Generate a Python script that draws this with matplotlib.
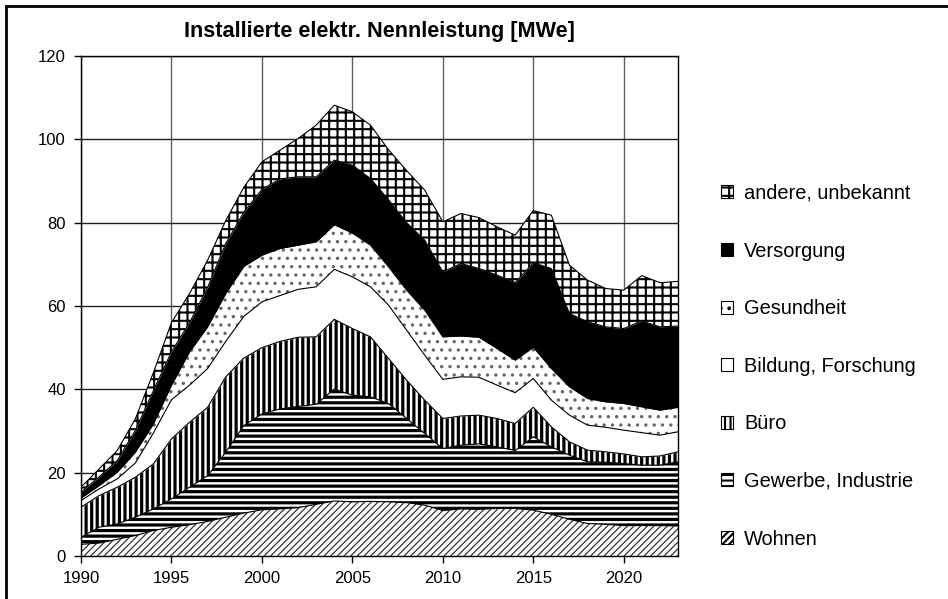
import matplotlib
matplotlib.use("Agg")
import matplotlib.pyplot as plt
from matplotlib.patches import Rectangle, Patch
import numpy as np

plt.rcParams['font.family'] = ['Liberation Sans', 'DejaVu Sans']

years = list(range(1990, 2024))

wohnen = [2.8, 3.1, 4.0, 4.9, 6.1, 6.9, 7.5, 8.3, 9.3, 10.3, 11.1, 11.3, 11.6, 12.4, 13.2, 13.0, 13.1,
          13.0, 12.8, 12.2, 10.9, 11.3, 11.2, 11.4, 11.4, 11.0, 10.0, 8.8, 7.8, 7.6, 7.3, 7.3, 7.3, 7.2]
gewerbe = [1.7, 3.8, 3.7, 4.4, 5.2, 6.8, 9.0, 11.0, 15.6, 21.0, 23.0, 24.0, 24.3, 24.0, 26.9, 25.6, 25.1,
           23.6, 20.2, 17.2, 14.9, 15.3, 15.7, 14.8, 13.9, 17.6, 16.2, 15.4, 14.8, 14.9, 14.9, 14.5, 14.5, 15.4]
buero = [7.2, 7.6, 8.8, 9.6, 10.8, 14.4, 15.6, 16.4, 18.1, 16.2, 15.9, 16.2, 16.6, 16.2, 16.7, 16.0, 14.4,
         10.8, 9.2, 8.0, 7.2, 7.0, 6.9, 6.8, 6.5, 7.1, 4.8, 3.2, 2.8, 2.5, 2.3, 2.0, 2.2, 2.4]
bildung = [1.6, 1.6, 2.0, 3.4, 7.4, 9.4, 8.9, 9.3, 8.5, 10.0, 11.0, 11.0, 11.5, 12.0, 12.0, 12.4, 12.0,
           12.8, 12.0, 10.8, 9.4, 9.4, 9.1, 8.0, 7.4, 6.9, 6.4, 6.4, 6.0, 5.9, 5.7, 5.8, 5.0, 4.8]
gesundheit = [0.6, 0.8, 1.6, 2.6, 2.2, 3.5, 8.0, 10.0, 11.5, 12.0, 11.2, 11.3, 10.6, 10.8, 10.7, 10.5, 10.0,
              9.2, 9.6, 10.8, 10.2, 9.8, 9.6, 8.8, 7.8, 7.5, 7.6, 6.8, 6.4, 6.1, 6.4, 6.2, 6.0, 5.9]
versorgung = [1.4, 2.1, 2.8, 5.2, 8.0, 8.0, 7.0, 9.5, 12.0, 13.0, 15.8, 16.7, 16.4, 15.6, 15.5, 16.3, 16.0,
              16.1, 16.2, 16.8, 15.6, 17.4, 16.5, 17.6, 18.6, 20.3, 24.0, 17.6, 18.4, 18.0, 18.0, 20.6, 20.0, 19.5]
andere = [1.2, 1.9, 2.4, 2.8, 4.3, 7.0, 7.0, 6.5, 5.5, 6.0, 6.6, 6.9, 9.2, 12.4, 13.2, 12.8, 12.8,
          12.0, 12.5, 12.0, 12.0, 12.0, 12.2, 11.6, 11.4, 12.5, 12.8, 11.6, 10.0, 9.2, 9.2, 10.9, 10.6, 10.7]

labels = ["Wohnen", "Gewerbe, Industrie", "Büro", "Bildung, Forschung",
          "Gesundheit", "Versorgung", "andere, unbekannt"]
series = [wohnen, gewerbe, buero, bildung, gesundheit, versorgung, andere]

# fill, hatch, hatch colour, hatch linewidth
styles = [
    ("white", "/////", "#333333", 0.9),
    ("white", "---", "black", 2.3),
    ("white", "|||", "black", 2.3),
    ("white", None, "black", 1.0),
    ("white", "..", "#666666", 1.2),
    ("black", None, "black", 1.0),
    ("white", "++", "black", 1.5),
]

fig = plt.figure(figsize=(9.48, 5.99), dpi=100)
ax = fig.add_axes([81 / 948, 43 / 599, 597 / 948, 500 / 599])

x = np.array(years)
bottom = np.zeros(len(years))
handles = []
for vals, lab, (fc, hatch, hc, hlw) in zip(series, labels, styles):
    top = bottom + np.array(vals)
    plt.rcParams['hatch.linewidth'] = hlw
    coll = ax.fill_between(x, bottom, top, facecolor=fc, edgecolor=hc, hatch=hatch,
                           linewidth=0, zorder=2)
    if hasattr(coll, 'set_hatch_linewidth'):
        coll.set_hatch_linewidth(hlw)
    ax.plot(x, top, color="black", lw=0.8, zorder=3)
    handles.append(Patch(facecolor=fc, edgecolor="black", hatch=hatch, linewidth=0.8, label=lab))
    bottom = top

ax.set_xlim(1990, 2023)
ax.set_ylim(0, 120)
ax.set_xticks(range(1990, 2021, 5))
ax.set_yticks(range(0, 121, 20))
ax.xaxis.grid(True, color="#606060", lw=1, zorder=0)
ax.yaxis.grid(True, color="#202020", lw=1, zorder=0)
ax.set_axisbelow(True)
ax.tick_params(labelsize=12, length=5, width=1, direction="out", colors="black", pad=6)
for s in ax.spines.values():
    s.set_linewidth(1)
    s.set_color("black")
    s.set_zorder(4)

ax.set_title("Installierte elektr. Nennleistung [MWe]", fontsize=15.6, fontweight="bold", pad=14)

leg = fig.legend(handles[::-1], labels[::-1], loc="upper left", bbox_to_anchor=(713 / 948, 1 - 176 / 599),
                 frameon=False, fontsize=14.4, handlelength=0.62, handleheight=0.62,
                 handletextpad=0.55, labelspacing=1.93, borderaxespad=0)

fig.patches.append(Rectangle((6 / 948, -0.1), 1.2, 1.1 - 6 / 599, transform=fig.transFigure,
                             fill=False, lw=2, ec="black"))

fig.savefig("out.png", dpi=100)
